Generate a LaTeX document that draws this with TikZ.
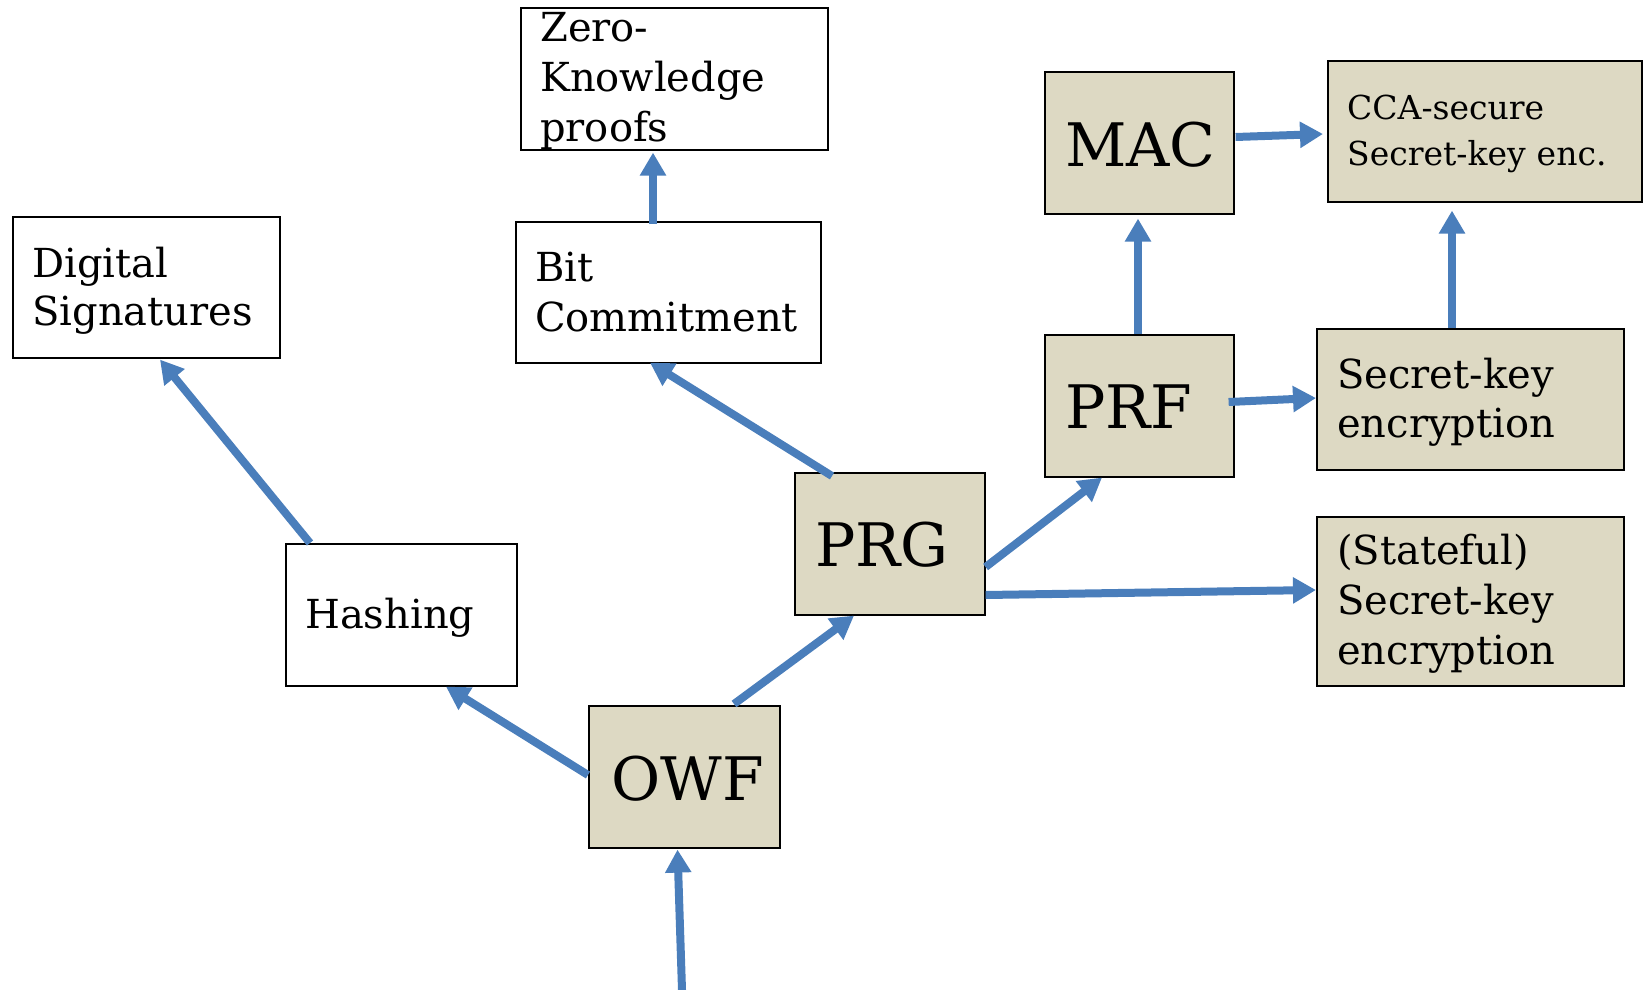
\documentclass[tikz,border=0pt]{standalone}
\usepackage{fontspec}
\setmainfont{DejaVu Serif}
\usetikzlibrary{arrows.meta,calc}
\definecolor{arrowblue}{RGB}{74,126,187}
\definecolor{boxtan}{RGB}{221,217,195}
\begin{document}
\begin{tikzpicture}[x=1pt,y=-1pt,
  box/.style={draw=black,line width=1.6pt,rectangle,inner sep=0pt,anchor=north west},
  tanbox/.style={box,fill=boxtan},
  whitebox/.style={box,fill=white},
  lbl/.style={anchor=base west,inner sep=0pt,text width=300pt,align=left,font=\fontsize{40}{49}\selectfont},
  big/.style={anchor=base west,inner sep=0pt,font=\fontsize{60}{72}\selectfont},
  conn/.style={draw=arrowblue,line width=8pt,-{Triangle[length=23pt,width=25pt]}}
]
\useasboundingbox (0,0) rectangle (1647,990);
% boxes
\node[whitebox,minimum width=307pt,minimum height=142pt] (zk) at (520,7) {};
\node[whitebox,minimum width=267pt,minimum height=141pt] (ds) at (12,216) {};
\node[whitebox,minimum width=305pt,minimum height=141pt] (bc) at (515,221) {};
\node[tanbox,minimum width=189pt,minimum height=142pt] (mac) at (1044,71) {};
\node[tanbox,minimum width=314pt,minimum height=141pt] (cca) at (1327,60) {};
\node[tanbox,minimum width=189pt,minimum height=142pt] (prf) at (1044,334) {};
\node[tanbox,minimum width=307pt,minimum height=141pt] (ske) at (1316,328) {};
\node[tanbox,minimum width=190pt,minimum height=142pt] (prg) at (794,472) {};
\node[tanbox,minimum width=307pt,minimum height=169pt] (st) at (1316,516) {};
\node[whitebox,minimum width=231pt,minimum height=142pt] (hash) at (285,543) {};
\node[tanbox,minimum width=191pt,minimum height=142pt] (owf) at (588,705) {};
% texts
\node[lbl,font=\fontsize{40}{50}\selectfont] (zk-t) at (540,42) {Zero-\\Knowledge\\proofs};
\node[lbl,font=\fontsize{40}{48}\selectfont] (ds-t) at (32,277) {Digital\\Signatures};
\node[lbl,font=\fontsize{40}{50}\selectfont] (bc-t) at (535,281) {Bit\\Commitment};
\node[big] (mac-t) at (1065,166) {MAC};
\node[lbl,font=\fontsize{33}{47}\selectfont] (cca-t) at (1347,119) {CCA-secure\\Secret-key enc.};
\node[big] (prf-t) at (1065,428) {PRF};
\node[lbl] (ske-t) at (1337,388) {Secret-key\\encryption};
\node[big] (prg-t) at (815,566) {PRG};
\node[lbl,font=\fontsize{40}{50}\selectfont] (st-t) at (1337,564) {(Stateful)\\Secret-key\\encryption};
\node[lbl] (hash-t) at (305,628) {Hashing};
\node[big] (owf-t) at (611,800) {OWF};
% connectors
\coordinate (in) at (682,990);
\draw[conn] (in) -- ($(owf.south west)+(89.5,1)$);
\draw[conn] ($(owf.north west)+(0,70)$) -- ($(hash.south west)+(161,0)$);
\draw[conn] ($(owf.north west)+(146,-1)$) -- ($(prg.south west)+(60,0)$);
\draw[conn] ($(hash.north west)+(25,0)$) -- ($(ds.south west)+(148,1)$);
\draw[conn] ($(prg.north west)+(38,4)$) -- ($(bc.south west)+(135,-1)$);
\draw[conn] ($(bc.north west)+(138,3)$) -- ($(zk.south west)+(133,2)$);
\draw[conn] ($(prg.north east)+(0,95)$) -- ($(prf.south west)+(58,0)$);
\draw[conn] ($(prg.north east)+(0,123)$) -- ($(st.north west)+(0,74)$);
\draw[conn] ($(prf.north west)+(94,0)$) -- ($(mac.south west)+(94,4)$);
\draw[conn] ($(prf.north east)+(-6,68)$) -- ($(ske.north west)+(0,70)$);
\draw[conn] ($(mac.north east)+(1,66)$) -- ($(cca.north west)+(-4,74)$);
\draw[conn] ($(ske.north west)+(136,0)$) -- ($(cca.south west)+(125,8)$);
\end{tikzpicture}
\end{document}
